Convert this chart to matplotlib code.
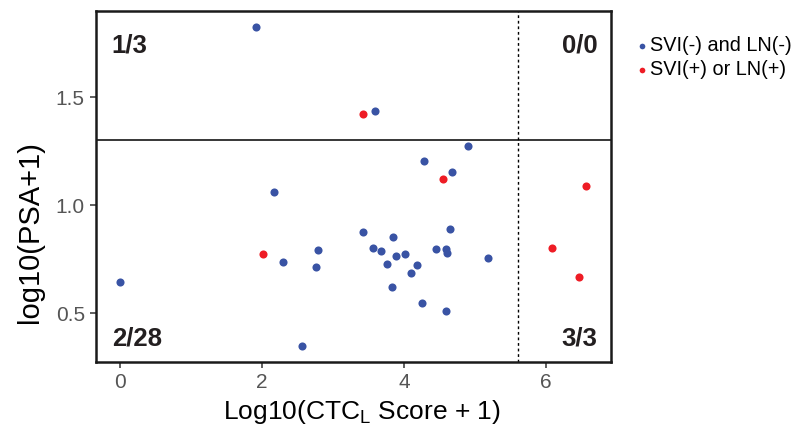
"""
Scatter of log10(PSA+1) vs log10(CTC-L score + 1), split into quadrants
by PSA cut-off (horizontal) and CTC cut-off (vertical dotted).
"""

import matplotlib
matplotlib.use("Agg")
import matplotlib.pyplot as plt

# data
blue_x = [0.00, 1.92, 3.59, 4.28, 4.90, 4.68, 2.17, 4.65, 4.02, 4.45,
          4.59, 4.61, 5.18, 4.19, 4.10, 2.29, 2.79, 2.76, 3.43, 3.57,
          3.68, 3.84, 3.89, 3.76, 3.83, 2.56, 4.26, 4.59]
blue_y = [0.645, 1.826, 1.435, 1.205, 1.272, 1.154, 1.059, 0.890, 0.775, 0.795,
          0.798, 0.779, 0.756, 0.724, 0.687, 0.736, 0.792, 0.714, 0.876, 0.800,
          0.787, 0.850, 0.762, 0.727, 0.620, 0.349, 0.545, 0.508]
red_x = [3.42, 4.55, 2.01, 6.57, 6.09, 6.46]
red_y = [1.420, 1.119, 0.772, 1.087, 0.802, 0.665]

psa_cut = 1.3
ctc_cut = 5.61
quadrant_labels = ["1/3", "0/0", "2/28", "3/3"]
series_names = ["SVI(-) and LN(-)", "SVI(+) or LN(+)"]

BLUE = "#3953A4"
RED = "#EE1C25"

plt.rcParams["font.family"] = ["Liberation Sans", "DejaVu Sans"]
plt.rcParams["mathtext.fontset"] = "custom"
plt.rcParams["mathtext.rm"] = "Liberation Sans"

fig = plt.figure(figsize=(7.99, 4.29), dpi=100)
ax = fig.add_axes([0.120, 0.156, 0.645, 0.818])

ax.scatter(blue_x, blue_y, s=34, color=BLUE, linewidths=0, label=series_names[0], zorder=3)
ax.scatter(red_x, red_y, s=34, color=RED, linewidths=0, label=series_names[1], zorder=3)

ax.axhline(psa_cut, color="black", lw=1.1, zorder=2)
ax.axvline(ctc_cut, color="black", lw=1.0, ls=(0, (2, 2)), zorder=2)

ax.set_xlim(-0.34, 6.92)
ax.set_ylim(0.273, 1.898)
ax.set_xticks([0, 2, 4, 6])
ax.set_yticks([0.5, 1.0, 1.5])
ax.set_yticklabels(["0.5", "1.0", "1.5"])

for sp in ax.spines.values():
    sp.set_linewidth(1.8)
    sp.set_color("#1a1a1a")
ax.tick_params(axis="both", direction="out", length=4, width=1.1,
               color="#333333", labelcolor="#555555", labelsize=15, pad=4)

ax.set_xlabel("Log10(CTC$_{\\mathrm{L}}$ Score + 1)", fontsize=19)
ax.set_ylabel("log10(PSA+1)", fontsize=21)
ax.xaxis.set_label_coords(0.517, -0.102)
ax.yaxis.set_label_coords(-0.10, 0.37)

# quadrant counts
kw = dict(transform=ax.transAxes, fontsize=18.5, fontweight="bold", color="#231F20")
ax.text(0.031, 0.937, quadrant_labels[0], ha="left", va="top", **kw)
ax.text(0.973, 0.937, quadrant_labels[1], ha="right", va="top", **kw)
ax.text(0.031, 0.034, quadrant_labels[2], ha="left", va="bottom", **kw)
ax.text(0.973, 0.034, quadrant_labels[3], ha="right", va="bottom", **kw)

fig.legend(loc="upper left", bbox_to_anchor=(0.783, 0.935), frameon=False,
           fontsize=14.3, markerscale=0.7, handletextpad=0.05,
           handlelength=0.8, labelspacing=0.25, borderaxespad=0)

fig.savefig("out.png", dpi=100)
